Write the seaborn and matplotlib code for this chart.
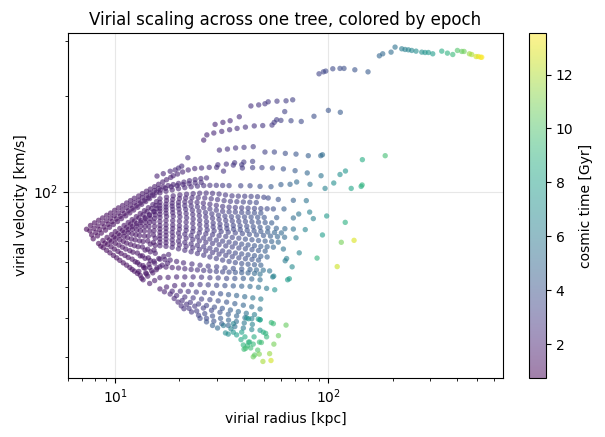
import numpy as np
import pandas as pd
import matplotlib
matplotlib.use("Agg")
import matplotlib.pyplot as plt
import seaborn as sns
from matplotlib.colors import Normalize
from matplotlib.cm import ScalarMappable

# ---- data: virial radius [kpc], virial velocity [km/s], cosmic time [Gyr] ----
a0_r = [15.7, 16.8, 18.1, 19.1, 19.8, 20.5, 21.9]
a0_v = [112.0, 114.0, 116.0, 117.1, 118.7, 120.4, 128.0]
a0_t = [1.9, 2.0, 2.1, 2.2, 2.3, 2.4, 2.6]

a1_r = [7.33, 7.65, 7.99, 8.35, 8.72, 9.11, 9.51, 9.93, 10.35, 10.82, 11.3, 11.78, 12.28, 12.87, 13.4, 14.0, 14.6, 15.3, 15.97, 16.7, 17.4, 18.2, 18.7]
a1_v = [76.1, 78.2, 79.7, 81.2, 82.6, 84.2, 85.6, 87.3, 88.9, 90.4, 92.1, 93.7, 95.3, 96.9, 98.6, 100.3, 101.9, 103.7, 105.5, 107.3, 109.1, 110.9, 112.3]
a1_t = [0.80, 0.85, 0.90, 0.95, 1.00, 1.05, 1.10, 1.15, 1.20, 1.25, 1.30, 1.35, 1.40, 1.45, 1.50, 1.55, 1.60, 1.65, 1.70, 1.75, 1.80, 1.85, 1.90]

c1_r = [19.6, 20.7, 22.0, 23.6, 25.4, 27.6, 29.9, 32.2, 39.5, 44.1, 48.8, 54.6, 61.5, 69.8, 79.6, 92.4, 113.4, 120.3]
c1_v = [113.7, 115.4, 117.1, 118.3, 118.8, 119.3, 119.3, 116.1, 118.8, 119.1, 119.1, 118.8, 118.0, 116.5, 114.6, 112.3, 113.3, 116.2]
c1_t = [1.95, 2.0, 2.1, 2.2, 2.3, 2.4, 2.5, 2.6, 2.9, 3.1, 3.3, 3.6, 3.9, 4.3, 4.9, 5.6, 7.0, 7.4]

e_r = [30.3, 33.2, 35.8, 36.3, 39.2, 40.1, 44.1]
e_v = [121.6, 122.2, 121.3, 123.4, 121.6, 124.0, 124.6]
e_t = [2.5, 2.6, 2.7, 2.7, 2.9, 2.9, 3.1]

d_r = [30.8, 33.6, 36.7, 40.2, 44.4, 50.4, 55.8, 62.8, 70.5, 80.5, 92.1, 93.8, 144.4, 184.8]
d_v = [135.3, 136.3, 137.4, 138.0, 138.7, 133.4, 133.4, 132.1, 131.4, 129.9, 129.9, 130.8, 126.2, 129.9]
d_t = [2.4, 2.5, 2.6, 2.8, 2.9, 3.2, 3.5, 3.8, 4.1, 4.5, 5.0, 5.2, 8.6, 9.6]

rc_r = [26.0, 26.9, 29.0, 31.6, 34.4, 37.3, 40.8, 44.9, 49.2, 54.4, 55.7, 57.2, 59.9, 66.8, 74.6]
rc_v = [145.5, 151.1, 153.2, 155.0, 156.9, 158.4, 159.9, 161.3, 161.7, 162.3, 165.5, 168.7, 167.9, 167.5, 166.6]
rc_t = [1.9, 2.0, 2.1, 2.2, 2.3, 2.4, 2.5, 2.6, 2.7, 2.8, 2.9, 3.0, 3.1, 3.4, 3.6]

rb_r = [29.4, 32.0, 34.6, 38.2, 43.3, 47.1, 50.4, 52.2, 57.4, 63.3, 68.0]
rb_v = [163.1, 165.5, 167.5, 172.4, 186.5, 187.9, 189.5, 192.2, 193.1, 193.6, 195.0]
rb_t = [2.0, 2.1, 2.2, 2.3, 2.5, 2.6, 2.7, 2.8, 2.9, 3.0, 3.1]

u4_r = [62.4, 85.6, 100.0, 113.8]
u4_v = [179.0, 173.0, 180.6, 178.1]
u4_t = [3.2, 3.8, 4.0, 4.3]

u2_r = [90.4, 94.8, 97.2, 104.9, 113.4, 118.4, 133.1, 153.5]
u2_v = [235.6, 239.0, 240.3, 244.4, 245.0, 245.0, 242.6, 239.0]
u2_t = [3.3, 3.4, 3.5, 3.6, 3.7, 3.8, 4.0, 4.3]

u1_r = [173.5, 179.9, 196.9, 205.6, 221.0, 229.1, 237.5, 246.2, 257.9, 274.3, 284.3, 294.8, 308.9, 340.5, 362.0, 383.5, 403.3, 422.7, 433.5, 459.2, 470.9, 493.5, 506.0, 519.0, 524.7]
u1_v = [268.5, 272.5, 275.8, 286.1, 282.6, 281.2, 280.5, 279.2, 277.8, 275.8, 275.1, 275.1, 272.5, 277.8, 273.8, 271.1, 279.2, 277.2, 277.2, 272.5, 271.1, 267.1, 267.1, 265.7, 265.7]
u1_t = [4.8, 5.0, 5.2, 5.5, 6.0, 6.2, 6.4, 6.6, 6.9, 7.1, 7.3, 7.5, 7.7, 8.6, 8.9, 9.3, 10.0, 10.4, 10.7, 11.5, 11.9, 12.7, 13.0, 13.3, 13.5]

a2_r = [7.6, 7.95, 8.3, 8.7, 9.1, 9.5, 9.9, 10.35, 10.8, 11.3, 11.8, 12.3, 12.85, 13.4, 14.0, 14.6, 15.3, 16.0, 16.8, 17.7, 18.7, 19.8, 21.0, 22.3, 23.7, 25.2, 26.8]
a2_v = [75.2, 76.6, 78.0, 79.5, 81.0, 82.5, 84.0, 85.6, 87.3, 89.0, 90.6, 92.2, 93.9, 95.6, 97.3, 99.0, 100.8, 102.4, 103.6, 104.5, 105.3, 106.2, 107.2, 108.3, 109.2, 110.0, 110.5]
a2_t = [0.85, 0.9, 0.95, 1.0, 1.05, 1.1, 1.15, 1.2, 1.25, 1.3, 1.35, 1.4, 1.45, 1.5, 1.55, 1.6, 1.65, 1.7, 1.78, 1.86, 1.94, 2.02, 2.1, 2.18, 2.26, 2.34, 2.42]

a23_r = [7.75, 8.1, 8.45, 8.85, 9.25, 9.65, 10.1, 10.55, 11.0, 11.5, 12.0, 12.55, 13.1, 13.7, 14.3, 14.95, 15.6, 16.3, 17.2, 18.3, 19.5, 20.8, 22.2, 23.7, 25.3]
a23_v = [73.0, 74.4, 75.9, 77.4, 78.9, 80.4, 82.0, 83.6, 85.2, 86.9, 88.6, 90.3, 92.1, 93.9, 95.7, 97.6, 99.6, 101.2, 102.5, 103.6, 104.5, 105.3, 106.0, 106.6, 107.0]
a23_t = [0.88, 0.93, 0.98, 1.03, 1.08, 1.13, 1.18, 1.23, 1.28, 1.33, 1.38, 1.43, 1.48, 1.53, 1.58, 1.63, 1.68, 1.75, 1.83, 1.91, 1.99, 2.07, 2.15, 2.25, 2.35]

a3_r = [7.88, 8.25, 8.6, 9.0, 9.4, 9.8, 10.25, 10.7, 11.2, 11.7, 12.2, 12.75, 13.3, 13.9, 14.5, 15.2, 16.2, 17.3, 18.5, 19.8, 21.2, 22.7, 24.3, 26.0, 27.8, 29.8, 31.9, 34.2, 38.8, 42.9, 47.8, 53.8, 59.9, 66.1, 71.0, 82.0, 96.5, 106.0, 128.0, 142.5, 144.0]
a3_v = [71.0, 72.5, 74.0, 75.6, 77.2, 78.8, 80.5, 82.2, 83.9, 85.7, 87.5, 89.3, 91.2, 93.1, 95.1, 97.1, 99.1, 100.3, 101.3, 102.2, 103.0, 103.6, 104.1, 104.5, 104.7, 104.7, 104.6, 104.5, 104.4, 104.4, 103.9, 103.7, 105.3, 105.5, 107.3, 105.5, 102.4, 106.5, 102.4, 103.9, 105.0]
a3_t = [0.9, 0.95, 1.0, 1.05, 1.1, 1.15, 1.2, 1.25, 1.3, 1.35, 1.4, 1.45, 1.5, 1.55, 1.6, 1.65, 1.7, 1.8, 1.9, 2.0, 2.1, 2.2, 2.35, 2.5, 2.65, 2.8, 2.95, 3.1, 3.3, 3.6, 3.9, 4.2, 4.5, 4.8, 5.1, 5.5, 6.3, 7.0, 8.2, 8.6, 9.0]

a4_r = [8.35, 8.75, 9.15, 9.6, 10.0, 10.5, 11.0, 11.5, 12.0, 12.55, 13.1, 13.7, 14.3, 15.0, 15.6, 16.2, 17.4, 18.7, 20.1, 21.6, 23.2, 24.9, 26.7, 28.6, 30.7, 32.9, 35.3, 37.8, 40.5, 43.4, 46.5, 49.8, 52.2, 58.2, 68.5, 78.8]
a4_v = [68.6, 70.1, 71.7, 73.2, 74.8, 76.5, 78.2, 79.9, 81.6, 83.4, 85.3, 87.1, 89.0, 91.0, 93.0, 95.0, 96.1, 97.0, 97.7, 98.2, 98.6, 98.9, 99.0, 98.8, 98.3, 97.6, 97.0, 96.8, 96.7, 96.6, 96.4, 96.0, 95.5, 94.5, 93.9, 93.7]
a4_t = [0.95, 1.0, 1.05, 1.1, 1.15, 1.2, 1.25, 1.3, 1.35, 1.4, 1.45, 1.5, 1.55, 1.6, 1.65, 1.7, 1.8, 1.9, 2.0, 2.1, 2.2, 2.3, 2.4, 2.5, 2.6, 2.7, 2.8, 2.9, 3.0, 3.1, 3.2, 3.35, 3.6, 4.0, 4.6, 5.6]

a45_r = [8.55, 8.95, 9.4, 9.85, 10.3, 10.8, 11.3, 11.8, 12.3, 12.9, 13.5, 14.1, 14.8, 15.5, 16.2, 17.4, 18.6, 20.0, 21.4, 22.9, 24.5, 26.3, 28.2, 30.2, 32.4, 34.7, 37.2, 39.9, 42.8, 45.9]
a45_v = [67.3, 68.8, 70.4, 72.0, 73.7, 75.4, 77.1, 78.9, 80.7, 82.6, 84.5, 86.4, 88.4, 90.4, 92.5, 93.7, 94.5, 95.1, 95.5, 95.7, 95.7, 95.5, 95.0, 94.4, 93.7, 93.2, 93.0, 92.8, 92.6, 92.4]
a45_t = [0.98, 1.03, 1.08, 1.13, 1.18, 1.23, 1.28, 1.33, 1.38, 1.43, 1.48, 1.53, 1.58, 1.63, 1.68, 1.78, 1.88, 1.98, 2.08, 2.18, 2.3, 2.42, 2.54, 2.66, 2.78, 2.9, 3.02, 3.15, 3.3, 3.45]

a5_r = [8.78, 9.2, 9.6, 10.05, 10.5, 11.0, 11.5, 12.0, 12.6, 13.2, 13.8, 14.45, 15.1, 15.6, 16.2, 17.3, 18.5, 19.8, 21.2, 22.6, 24.2, 25.9, 27.8, 29.8, 31.9, 34.2, 36.6, 39.2, 42.0, 45.0, 48.2, 51.6, 55.2, 61.9, 72.6, 81.7, 98.2]
a5_v = [66.6, 68.1, 69.6, 71.1, 72.7, 74.3, 75.9, 77.6, 79.3, 81.0, 82.8, 84.6, 86.5, 88.4, 90.4, 91.3, 92.0, 92.5, 92.8, 92.8, 92.5, 92.0, 91.3, 90.5, 89.8, 89.4, 89.1, 88.9, 88.7, 88.5, 88.4, 88.3, 88.2, 88.2, 85.0, 86.2, 83.8]
a5_t = [1.0, 1.05, 1.1, 1.15, 1.2, 1.25, 1.3, 1.35, 1.4, 1.45, 1.5, 1.55, 1.6, 1.65, 1.7, 1.8, 1.9, 2.0, 2.1, 2.2, 2.3, 2.4, 2.5, 2.6, 2.7, 2.8, 2.9, 3.0, 3.15, 3.3, 3.45, 3.6, 3.8, 4.5, 5.6, 6.2, 7.6]

a56_r = [9.1, 9.55, 10.0, 10.5, 11.0, 11.5, 12.05, 12.6, 13.2, 13.85, 14.5, 15.3, 16.2, 17.3, 18.5, 19.8, 21.2, 22.7, 24.3, 26.0, 27.8, 29.8, 31.9, 34.2, 36.6, 39.2, 42.0, 45.0, 48.2]
a56_v = [65.3, 67.0, 68.7, 70.5, 72.3, 74.2, 76.1, 78.0, 80.0, 82.1, 84.2, 86.4, 88.6, 89.4, 90.0, 90.3, 90.3, 90.1, 89.6, 89.0, 88.2, 87.4, 86.7, 86.4, 86.2, 86.0, 85.9, 85.7, 85.6]
a56_t = [1.02, 1.08, 1.14, 1.2, 1.26, 1.32, 1.38, 1.44, 1.5, 1.56, 1.62, 1.7, 1.78, 1.9, 2.02, 2.14, 2.26, 2.38, 2.5, 2.62, 2.74, 2.86, 2.98, 3.1, 3.25, 3.4, 3.55, 3.7, 3.85]

a6_r = [9.44, 9.9, 10.4, 10.9, 11.4, 12.0, 12.6, 13.2, 13.9, 14.6, 15.4, 16.2, 17.3, 18.6, 19.9, 21.4, 23.0, 24.7, 26.5, 28.4, 30.5, 32.7, 35.1, 37.7, 40.4, 43.4, 46.6, 50.0, 57.2, 68.5, 85.0, 120.0]
a6_v = [64.1, 65.9, 67.8, 69.7, 71.6, 73.6, 75.7, 77.8, 80.0, 82.2, 84.5, 86.9, 87.6, 88.0, 88.1, 87.9, 87.4, 86.7, 85.9, 85.1, 84.3, 83.7, 83.4, 83.3, 83.2, 83.1, 83.0, 82.9, 82.8, 82.6, 82.2, 80.0]
a6_t = [1.0, 1.06, 1.12, 1.18, 1.24, 1.3, 1.36, 1.42, 1.48, 1.54, 1.6, 1.66, 1.8, 1.95, 2.1, 2.25, 2.4, 2.55, 2.7, 2.85, 3.0, 3.15, 3.3, 3.45, 3.6, 3.75, 3.9, 4.05, 4.4, 5.2, 6.3, 8.8]

a67_r = [9.8, 10.3, 10.8, 11.3, 11.9, 12.5, 13.1, 13.8, 14.5, 15.3, 16.2, 17.3, 18.6, 20.0, 21.5, 23.1, 24.8, 26.6, 28.6, 30.7, 33.0, 35.4, 38.0, 40.8, 43.8, 47.0, 50.5, 54.2]
a67_v = [62.9, 64.8, 66.8, 68.8, 70.9, 73.1, 75.3, 77.6, 80.0, 82.4, 84.9, 85.5, 85.8, 85.7, 85.3, 84.7, 84.0, 83.2, 82.4, 81.7, 81.1, 80.8, 80.6, 80.5, 80.3, 80.1, 79.9, 79.7]
a67_t = [1.05, 1.11, 1.17, 1.23, 1.29, 1.35, 1.41, 1.47, 1.53, 1.59, 1.65, 1.78, 1.92, 2.06, 2.2, 2.34, 2.48, 2.62, 2.76, 2.9, 3.05, 3.2, 3.35, 3.5, 3.7, 3.9, 4.1, 4.3]

a7_r = [10.15, 10.65, 11.2, 11.8, 12.4, 13.0, 13.7, 14.4, 15.2, 16.2, 17.4, 18.7, 20.1, 21.6, 23.2, 24.9, 26.8, 28.8, 31.0, 33.3, 35.8, 38.5, 41.4, 44.4, 47.8, 52.0, 57.0, 62.5, 68.5, 77.9, 93.8]
a7_v = [61.8, 63.8, 65.9, 68.1, 70.4, 72.7, 75.1, 77.6, 80.2, 82.9, 83.5, 83.6, 83.3, 82.7, 82.0, 81.2, 80.4, 79.6, 79.0, 78.5, 78.2, 78.0, 77.8, 77.5, 77.2, 76.9, 76.6, 76.4, 76.2, 75.9, 73.0]
a7_t = [1.05, 1.12, 1.19, 1.26, 1.33, 1.4, 1.47, 1.54, 1.61, 1.68, 1.8, 1.95, 2.1, 2.25, 2.4, 2.55, 2.7, 2.85, 3.0, 3.15, 3.3, 3.45, 3.6, 3.8, 4.0, 4.3, 4.6, 5.0, 5.4, 6.5, 7.8]

a78_r = [10.5, 11.1, 11.7, 12.3, 13.0, 13.7, 14.5, 15.3, 16.2, 17.3, 18.6, 20.0, 21.5, 23.1, 24.9, 26.8, 28.8, 31.0, 33.4, 35.9, 38.6, 41.6, 44.8, 48.2, 51.9, 55.9, 60.2]
a78_v = [60.7, 62.9, 65.1, 67.5, 69.9, 72.4, 75.0, 77.7, 80.5, 81.0, 81.0, 80.7, 80.1, 79.4, 78.7, 78.0, 77.4, 76.9, 76.5, 76.1, 75.8, 75.5, 75.2, 74.9, 74.6, 74.3, 74.1]
a78_t = [1.08, 1.15, 1.22, 1.29, 1.36, 1.43, 1.5, 1.57, 1.64, 1.78, 1.92, 2.06, 2.2, 2.35, 2.5, 2.65, 2.8, 2.95, 3.1, 3.3, 3.5, 3.7, 3.9, 4.15, 4.4, 4.7, 5.0]

a8_r = [10.9, 11.5, 12.1, 12.8, 13.5, 14.3, 15.2, 16.2, 17.3, 18.6, 20.0, 21.5, 23.2, 25.0, 27.0, 29.1, 31.4, 33.9, 36.6, 39.5, 42.6, 46.0, 49.6, 53.5, 57.7, 62.3, 70.5, 115.0, 132.0]
a8_v = [59.6, 62.0, 64.4, 67.0, 69.6, 72.4, 75.3, 78.2, 78.6, 78.5, 78.1, 77.5, 76.8, 76.2, 75.7, 75.2, 74.8, 74.5, 74.1, 73.7, 73.3, 73.0, 72.7, 72.4, 72.1, 71.8, 71.5, 69.2, 70.2]
a8_t = [1.1, 1.18, 1.26, 1.34, 1.42, 1.5, 1.58, 1.66, 1.8, 1.95, 2.1, 2.25, 2.4, 2.55, 2.7, 2.85, 3.0, 3.15, 3.3, 3.5, 3.7, 3.9, 4.1, 4.4, 4.7, 5.1, 6.0, 10.8, 12.8]

a89_r = [11.3, 12.0, 12.7, 13.4, 14.2, 15.1, 16.2, 17.3, 18.6, 20.0, 21.5, 23.1, 24.8, 26.6, 28.6, 30.7, 33.0, 35.4, 38.0, 40.8, 43.8, 47.0, 50.5, 54.2, 58.2]
a89_v = [58.6, 61.2, 64.0, 66.9, 69.9, 73.0, 76.3, 76.6, 76.5, 76.1, 75.5, 74.8, 74.1, 73.6, 73.1, 72.6, 72.2, 71.7, 71.3, 70.8, 70.5, 70.1, 69.8, 69.6, 69.3]
a89_t = [1.15, 1.23, 1.31, 1.39, 1.47, 1.55, 1.63, 1.75, 1.9, 2.05, 2.2, 2.35, 2.5, 2.65, 2.8, 2.95, 3.1, 3.3, 3.5, 3.7, 3.9, 4.1, 4.35, 4.6, 4.9]

a9_r = [11.7, 12.4, 13.1, 13.8, 14.6, 15.4, 16.2, 17.3, 18.5, 19.8, 21.2, 22.7, 24.3, 26.0, 27.8, 29.8, 31.9, 34.2, 36.6, 39.2, 42.0, 45.0, 48.2, 51.6, 55.2, 61.5, 73.0, 88.5, 110.0]
a9_v = [57.6, 60.1, 62.7, 65.4, 68.3, 71.3, 74.4, 74.6, 74.4, 74.0, 73.4, 72.7, 72.0, 71.4, 70.9, 70.3, 69.8, 69.3, 68.8, 68.3, 67.9, 67.5, 67.2, 67.0, 66.8, 65.9, 64.1, 61.7, 58.0]
a9_t = [1.2, 1.28, 1.36, 1.44, 1.52, 1.6, 1.68, 1.8, 1.95, 2.1, 2.25, 2.4, 2.55, 2.7, 2.85, 3.0, 3.15, 3.3, 3.5, 3.7, 3.9, 4.1, 4.3, 4.55, 4.8, 5.5, 6.5, 9.0, 12.5]

a910_r = [12.0, 12.7, 13.4, 14.2, 15.1, 16.2, 17.3, 18.6, 20.0, 21.5, 23.1, 24.8, 26.6, 28.6, 30.7, 33.0, 35.4, 38.0, 40.8, 43.8, 47.0, 50.5]
a910_v = [56.8, 59.7, 62.7, 65.8, 69.1, 72.6, 72.7, 72.4, 71.9, 71.3, 70.6, 69.9, 69.2, 68.6, 68.0, 67.4, 66.9, 66.4, 66.0, 65.6, 65.2, 64.9]
a910_t = [1.22, 1.3, 1.38, 1.46, 1.54, 1.62, 1.75, 1.9, 2.05, 2.2, 2.35, 2.5, 2.65, 2.8, 2.95, 3.1, 3.3, 3.5, 3.7, 3.9, 4.15, 4.4]

a10_r = [12.3, 13.0, 13.8, 14.6, 15.4, 16.2, 17.3, 18.5, 19.8, 21.2, 22.7, 24.3, 26.0, 27.8, 29.8, 31.9, 34.2, 36.6, 39.2, 42.0, 45.0, 48.2, 51.6, 62.7, 63.7, 67.6]
a10_v = [56.1, 58.8, 61.6, 64.6, 67.7, 70.9, 70.8, 70.4, 69.8, 69.1, 68.4, 67.7, 67.0, 66.3, 65.6, 65.0, 64.5, 64.0, 63.6, 63.2, 62.8, 62.5, 62.2, 60.5, 61.5, 57.9]
a10_t = [1.25, 1.33, 1.41, 1.49, 1.57, 1.65, 1.8, 1.95, 2.1, 2.25, 2.4, 2.55, 2.7, 2.85, 3.0, 3.15, 3.3, 3.5, 3.7, 3.9, 4.1, 4.35, 4.6, 6.0, 6.2, 6.8]

a1011_r = [12.7, 13.5, 14.3, 15.2, 16.2, 17.3, 18.6, 20.0, 21.5, 23.1, 24.8, 26.6, 28.6, 30.7, 33.0, 35.4, 38.0, 40.8, 43.8, 47.0]
a1011_v = [55.2, 58.4, 61.8, 65.4, 69.2, 69.0, 68.5, 67.9, 67.2, 66.5, 65.7, 65.0, 64.2, 63.5, 62.9, 62.3, 61.8, 61.4, 61.1, 60.8]
a1011_t = [1.28, 1.36, 1.44, 1.52, 1.6, 1.75, 1.9, 2.05, 2.2, 2.35, 2.5, 2.65, 2.8, 2.95, 3.1, 3.3, 3.5, 3.7, 3.95, 4.2]

a11_r = [13.1, 13.8, 14.6, 15.4, 16.2, 17.3, 18.5, 19.8, 21.2, 22.7, 24.3, 26.0, 27.8, 29.8, 31.9, 34.2, 36.6, 39.2, 42.0, 45.0, 48.2]
a11_v = [54.4, 57.4, 60.6, 63.9, 67.5, 67.2, 66.7, 66.0, 65.3, 64.6, 63.8, 63.0, 62.2, 61.5, 60.8, 60.2, 59.7, 59.3, 59.0, 58.8, 58.6]
a11_t = [1.3, 1.4, 1.5, 1.6, 1.7, 1.85, 2.0, 2.15, 2.3, 2.45, 2.6, 2.75, 2.9, 3.05, 3.2, 3.4, 3.6, 3.8, 4.0, 4.25, 4.5]

f1_r = [12.9, 13.6, 14.4, 15.2, 16.0, 16.9, 17.8]
f1_v = [56.0, 57.5, 59.0, 60.3, 61.5, 62.5, 63.3]
f1_t = [1.3, 1.38, 1.46, 1.54, 1.62, 1.75, 1.9]

f2_r = [14.0, 14.8, 15.7, 16.6, 17.6]
f2_v = [55.0, 56.3, 57.5, 58.6, 59.4]
f2_t = [1.45, 1.53, 1.61, 1.7, 1.82]

a11b_r = [13.3, 13.9, 14.5, 15.3, 16.2, 17.1, 18.1, 19.4, 20.9, 22.9, 25.0, 27.3, 29.9, 32.7, 35.8, 39.2, 42.9, 46.0, 49.5, 53.0]
a11b_v = [53.3, 55.4, 57.6, 59.5, 61.2, 61.0, 60.8, 60.2, 59.6, 59.1, 58.6, 58.2, 57.9, 57.5, 57.2, 57.0, 56.8, 56.6, 56.5, 56.2]
a11b_t = [1.4, 1.45, 1.5, 1.6, 1.7, 1.8, 1.9, 2.05, 2.2, 2.4, 2.6, 2.85, 3.1, 3.4, 3.7, 4.0, 4.4, 4.8, 5.2, 5.6]

a12_r = [13.5, 14.2, 15.0, 15.6, 16.2, 17.3, 18.5, 19.8, 21.2, 22.7, 24.3, 26.0, 27.8, 29.8, 31.9, 34.2, 36.6, 39.2, 42.0, 45.0, 47.8, 54.8, 55.4, 64.4, 65.6]
a12_v = [52.7, 54.1, 55.4, 56.7, 57.9, 57.8, 57.6, 57.4, 57.1, 56.8, 56.6, 56.4, 56.2, 56.0, 55.8, 55.7, 55.6, 55.5, 55.4, 55.2, 54.9, 53.8, 54.1, 52.7, 53.1]
a12_t = [1.4, 1.45, 1.5, 1.55, 1.6, 1.7, 1.8, 1.95, 2.1, 2.3, 2.5, 2.7, 2.95, 3.2, 3.45, 3.7, 4.0, 4.3, 4.6, 5.0, 5.4, 6.2, 6.4, 7.6, 7.8]

a12b_r = [14.5, 15.3, 16.2, 17.7, 19.4, 21.2, 23.2, 25.4, 27.8, 30.4, 33.3, 36.4, 39.9, 43.7, 47.8]
a12b_v = [51.3, 52.4, 53.5, 53.6, 53.8, 53.8, 53.8, 53.7, 53.5, 53.4, 53.2, 53.2, 53.2, 53.0, 52.7]
a12b_t = [1.5, 1.6, 1.7, 1.85, 2.0, 2.2, 2.4, 2.65, 2.9, 3.2, 3.5, 3.9, 4.3, 4.8, 5.3]

a13_r = [16.2, 17.4, 19.0, 20.9, 22.8, 25.0, 27.3, 29.9, 32.7, 35.8, 39.2, 42.9, 47.0, 51.3, 56.0]
a13_v = [49.3, 50.0, 50.5, 50.8, 50.9, 50.9, 50.8, 50.6, 50.5, 50.4, 50.3, 50.2, 49.9, 49.5, 49.0]
a13_t = [1.6, 1.8, 2.0, 2.2, 2.5, 2.8, 3.1, 3.4, 3.8, 4.2, 4.6, 5.0, 5.4, 5.9, 7.2]

a135_r = [17.0, 18.5, 20.2, 22.0, 24.0, 26.2, 28.6, 31.2, 34.0, 37.1, 40.5, 44.2, 48.2]
a135_v = [48.3, 48.5, 48.5, 48.4, 48.2, 48.0, 47.8, 47.6, 47.3, 47.0, 46.6, 46.2, 45.8]
a135_t = [1.9, 2.1, 2.3, 2.6, 2.9, 3.2, 3.5, 3.9, 4.3, 4.7, 5.1, 5.6, 6.1]

a14_r = [18.1, 19.4, 21.2, 23.2, 25.4, 27.8, 30.4, 33.3, 36.4, 39.9, 43.7, 47.8]
a14_v = [47.5, 47.0, 46.5, 46.2, 45.8, 45.6, 45.2, 44.8, 44.3, 43.8, 43.3, 42.6]
a14_t = [2.0, 2.2, 2.5, 2.8, 3.1, 3.4, 3.7, 4.0, 4.4, 4.8, 5.2, 5.6]

a145_r = [18.9, 20.6, 22.5, 24.6, 26.8, 29.2, 31.8, 34.7, 37.8, 41.2, 45.0]
a145_v = [46.0, 45.3, 44.7, 44.2, 43.7, 43.2, 42.8, 42.3, 41.8, 41.3, 40.9]
a145_t = [2.1, 2.4, 2.7, 3.0, 3.3, 3.7, 4.1, 4.5, 5.0, 5.5, 6.1]

a15_r = [19.7, 21.6, 23.6, 25.9, 28.3, 31.0, 33.9, 37.1, 40.6, 43.7, 47.8]
a15_v = [44.8, 44.1, 43.5, 42.9, 42.2, 41.6, 41.0, 40.5, 40.0, 39.7, 39.4]
a15_t = [2.2, 2.5, 2.8, 3.1, 3.5, 3.9, 4.3, 4.8, 5.4, 6.2, 7.8]

a156_r = [20.4, 22.2, 24.1, 26.3, 28.6, 31.2, 34.0, 37.0, 40.3, 44.0]
a156_v = [43.6, 42.8, 42.0, 41.2, 40.5, 39.8, 39.3, 38.9, 38.5, 38.1]
a156_t = [2.4, 2.7, 3.0, 3.4, 3.8, 4.2, 4.7, 5.2, 5.8, 6.4]

a16_r = [21.0, 22.8, 24.6, 26.8, 29.0, 31.6, 33.9, 36.4, 39.9, 43.7, 47.8]
a16_v = [42.7, 41.7, 40.7, 39.8, 39.0, 38.3, 37.8, 37.5, 37.1, 36.7, 36.5]
a16_t = [2.5, 2.8, 3.1, 3.5, 3.9, 4.3, 4.8, 5.3, 5.9, 6.6, 7.4]

b_r = [25.0, 26.8, 28.6, 30.2]
b_v = [39.8, 38.8, 37.8, 37.1]
b_t = [3.5, 4.0, 4.5, 5.0]

g_r = [32.9, 33.9, 35.8, 37.1, 39.2, 38.9, 40.6, 42.2, 39.9, 40.2, 41.7, 43.2, 44.4, 46.6, 45.1, 48.5, 47.5, 49.5, 51.3, 50.8, 58.3, 55.5, 53.0, 53.8, 49.3, 47.4, 44.4, 63.3, 54.0, 55.2, 47.8, 46.9, 42.2, 41.4, 35.8, 32.2, 34.9, 42.7, 44.8, 40.9]
g_v = [35.8, 35.5, 36.0, 35.3, 36.0, 34.1, 34.8, 33.5, 32.8, 31.8, 32.6, 32.1, 33.0, 31.6, 30.5, 33.4, 33.5, 36.0, 34.8, 35.7, 35.1, 33.0, 30.8, 29.3, 29.1, 30.7, 30.1, 37.9, 38.6, 38.3, 39.4, 39.6, 39.7, 39.9, 38.3, 37.8, 36.9, 33.5, 34.8, 32.0]
g_t = [6.8, 7.0, 7.4, 7.8, 8.0, 8.4, 8.6, 8.9, 9.0, 9.4, 9.2, 9.5, 9.3, 10.0, 10.2, 9.6, 9.4, 8.8, 9.2, 9.0, 10.6, 10.8, 11.5, 12.6, 11.8, 11.0, 10.6, 10.5, 9.2, 9.4, 8.0, 7.8, 7.2, 7.0, 6.4, 5.8, 6.5, 9.0, 8.7, 9.6]

tracks = [
    (a0_r, a0_v, a0_t), (a1_r, a1_v, a1_t), (c1_r, c1_v, c1_t), (e_r, e_v, e_t),
    (d_r, d_v, d_t), (rc_r, rc_v, rc_t), (rb_r, rb_v, rb_t), (u4_r, u4_v, u4_t),
    (u2_r, u2_v, u2_t), (u1_r, u1_v, u1_t), (a2_r, a2_v, a2_t), (a23_r, a23_v, a23_t),
    (a3_r, a3_v, a3_t), (a4_r, a4_v, a4_t), (a45_r, a45_v, a45_t), (a5_r, a5_v, a5_t),
    (a56_r, a56_v, a56_t), (a6_r, a6_v, a6_t), (a67_r, a67_v, a67_t), (a7_r, a7_v, a7_t),
    (a78_r, a78_v, a78_t), (a8_r, a8_v, a8_t), (a89_r, a89_v, a89_t), (a9_r, a9_v, a9_t),
    (a910_r, a910_v, a910_t), (a10_r, a10_v, a10_t), (a1011_r, a1011_v, a1011_t),
    (a11_r, a11_v, a11_t), (f1_r, f1_v, f1_t), (f2_r, f2_v, f2_t),
    (a11b_r, a11b_v, a11b_t), (a12_r, a12_v, a12_t),
    (a12b_r, a12b_v, a12b_t), (a13_r, a13_v, a13_t), (a135_r, a135_v, a135_t),
    (a14_r, a14_v, a14_t), (a145_r, a145_v, a145_t), (a15_r, a15_v, a15_t),
    (a156_r, a156_v, a156_t), (a16_r, a16_v, a16_t), (b_r, b_v, b_t), (g_r, g_v, g_t),
]
frames = [pd.DataFrame({"r_vir": r, "v_vir": v, "t_gyr": t}) for r, v, t in tracks]
df = pd.concat(frames, ignore_index=True)

t_min, t_max = 0.74, 13.54

fig = plt.figure(figsize=(6.05, 4.37), dpi=100)
ax = fig.add_axes([0.1124, 0.135, 0.719, 0.7895])
cax = fig.add_axes([0.875, 0.135, 0.0276, 0.7895])

norm = Normalize(vmin=t_min, vmax=t_max)
sns.scatterplot(data=df, x="r_vir", y="v_vir", hue="t_gyr", hue_norm=norm,
                palette="viridis", s=15, alpha=0.6, linewidth=0,
                legend=False, ax=ax)

ax.set_xscale("log")
ax.set_yscale("log")
ax.set_xlim(6.0, 660)
ax.set_ylim(25.8, 317)
ax.grid(True, which="major", alpha=0.3)
ax.set_axisbelow(True)
ax.set_xlabel("virial radius [kpc]")
ax.set_ylabel("virial velocity [km/s]")
ax.set_title("Virial scaling across one tree, colored by epoch")

sm = ScalarMappable(norm=norm, cmap="viridis")
cb = fig.colorbar(sm, cax=cax, alpha=0.5)
cb.set_label("cosmic time [Gyr]")

fig.savefig("out.png", dpi=100)
